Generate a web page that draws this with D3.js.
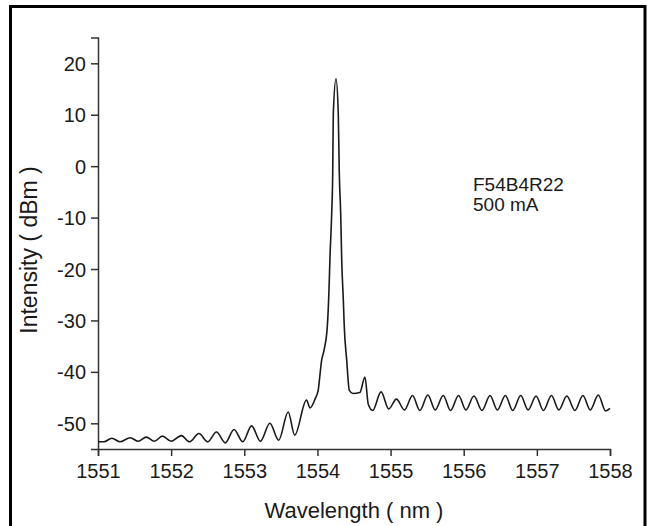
<!DOCTYPE html>
<html>
<head>
<meta charset="utf-8">
<script src="https://cdn.jsdelivr.net/npm/d3@7"></script>
<style>
  html, body { margin: 0; padding: 0; background: #fff; }
  svg { display: block; }
  text { font-family: "Liberation Sans", Arial, sans-serif; fill: #1a1a1a; }
</style>
</head>
<body>
<svg id="chart" width="648" height="526"></svg>
<script>
// ---- data ----
const wavelength = [
  1551.00, 1551.08, 1551.19, 1551.30, 1551.44, 1551.55, 1551.66, 1551.77, 1551.88, 1552.00,
  1552.14, 1552.25, 1552.38, 1552.50, 1552.62, 1552.74, 1552.86, 1552.98, 1553.10, 1553.22,
  1553.35, 1553.47, 1553.60, 1553.69, 1553.85, 1553.90, 1553.97, 1554.01, 1554.058, 1554.09,
  1554.135, 1554.158, 1554.172, 1554.195, 1554.209, 1554.217, 1554.254, 1554.285, 1554.299, 1554.318,
  1554.332, 1554.354, 1554.367, 1554.40, 1554.436, 1554.486, 1554.58, 1554.65, 1554.695, 1554.755,
  1554.87, 1554.975, 1555.08, 1555.19, 1555.30, 1555.40, 1555.51, 1555.61, 1555.72, 1555.82,
  1555.93, 1556.03, 1556.14, 1556.25, 1556.36, 1556.46, 1556.57, 1556.67, 1556.78, 1556.88,
  1556.99, 1557.09, 1557.20, 1557.30, 1557.41, 1557.52, 1557.63, 1557.73, 1557.84, 1557.94,
  1558.00
];
const intensity = [
  -53.6, -53.6, -52.9, -53.6, -52.8, -53.5, -52.7, -53.5, -52.5, -53.5,
  -52.4, -53.6, -52.0, -53.6, -51.7, -53.8, -51.2, -53.6, -50.5, -53.5,
  -50.0, -53.3, -47.8, -52.3, -45.5, -47.0, -45.2, -43.6, -37.7, -35.8,
  -31.2, -24.1, -17.6, -9.2, -1.4, 10.2, 17.0, 10.2, -1.4, -9.2,
  -18.3, -26.0, -31.2, -37.7, -43.6, -44.2, -44.0, -41.0, -46.3, -47.5,
  -43.9, -47.2, -45.3, -47.4, -44.6, -47.5, -44.5, -47.4, -44.6, -47.5,
  -44.6, -47.4, -44.7, -47.5, -44.6, -47.4, -44.6, -47.5, -44.6, -47.4,
  -44.7, -47.5, -44.6, -47.4, -44.7, -47.5, -44.6, -47.4, -44.5, -47.6,
  -47.1
];
const xTicks = [1551, 1552, 1553, 1554, 1555, 1556, 1557, 1558];
const xMinorTicks = [1551.5, 1552.5, 1553.5, 1554.5, 1555.5, 1556.5, 1557.5];
const yTicks = [-50, -40, -30, -20, -10, 0, 10, 20];
const yMinorTicks = [-55, -45, -35, -25, -15, -5, 5, 15, 25];
const annotationLines = ["F54B4R22", "500 mA"];
const xTitle = "Wavelength ( nm )";
const yTitle = "Intensity ( dBm )";

// ---- drawing ----
const svg = d3.select("#chart");
svg.append("rect").attr("x", 0).attr("y", 0).attr("width", 648).attr("height", 526).attr("fill", "#fff");
svg.append("rect")
  .attr("x", 10.5).attr("y", 6.5).attr("width", 634.5).attr("height", 540)
  .attr("fill", "none").attr("stroke", "#000").attr("stroke-width", 3);

const x = d3.scaleLinear().domain([1551, 1558]).range([98, 610]);
const y = d3.scaleLinear().domain([-55, 25]).range([449, 37.6]);

const axisColor = "#333";
const fmt = d => String(d);

// x axis
const gx = svg.append("g").attr("transform", `translate(0,${y(-55)})`);
gx.call(d3.axisBottom(x).tickValues(xMinorTicks).tickSize(4).tickFormat(""));
gx.call(d3.axisBottom(x).tickValues(xTicks).tickSize(7).tickFormat(fmt));
gx.selectAll("path.domain").attr("stroke", axisColor).attr("stroke-width", 1.5);
gx.selectAll("line").attr("stroke", axisColor).attr("stroke-width", 1.5);
gx.selectAll("text").attr("y", 29).attr("dy", 0)
  .style("font-size", "20px").style("font-family", "'Liberation Sans', Arial, sans-serif").attr("fill", "#1a1a1a");

// y axis
const gy = svg.append("g").attr("transform", `translate(${x(1551)},0)`);
gy.call(d3.axisLeft(y).tickValues(yMinorTicks).tickSize(4).tickFormat(""));
gy.call(d3.axisLeft(y).tickValues(yTicks).tickSize(7).tickFormat(fmt));
gy.selectAll("path.domain").attr("stroke", axisColor).attr("stroke-width", 1.5);
gy.selectAll("line").attr("stroke", axisColor).attr("stroke-width", 1.5);
gy.selectAll("text").attr("x", -12).attr("dy", "0.35em")
  .style("font-size", "20px").style("font-family", "'Liberation Sans', Arial, sans-serif").attr("fill", "#1a1a1a");

// curve
const pts = wavelength.map((w, i) => [w, intensity[i]]);
const line = d3.line().x(d => x(d[0])).y(d => y(d[1])).curve(d3.curveMonotoneX);
svg.append("path").datum(pts)
  .attr("d", line).attr("fill", "none")
  .attr("stroke", "#1a1a1a").attr("stroke-width", 1.6).attr("stroke-linejoin", "round");

// titles
svg.append("text").attr("x", (x(1551) + x(1558)) / 2).attr("y", 518)
  .attr("text-anchor", "middle").style("font-size", "22px").text(xTitle);
svg.append("text").attr("transform", `translate(37,${250}) rotate(-90)`)
  .attr("text-anchor", "middle").style("font-size", "23px").text(yTitle);

// annotation
svg.append("g").selectAll("text").data(annotationLines).join("text")
  .attr("x", 473).attr("y", (d, i) => 191 + i * 20)
  .style("font-size", "19px").text(d => d);
</script>
</body>
</html>
